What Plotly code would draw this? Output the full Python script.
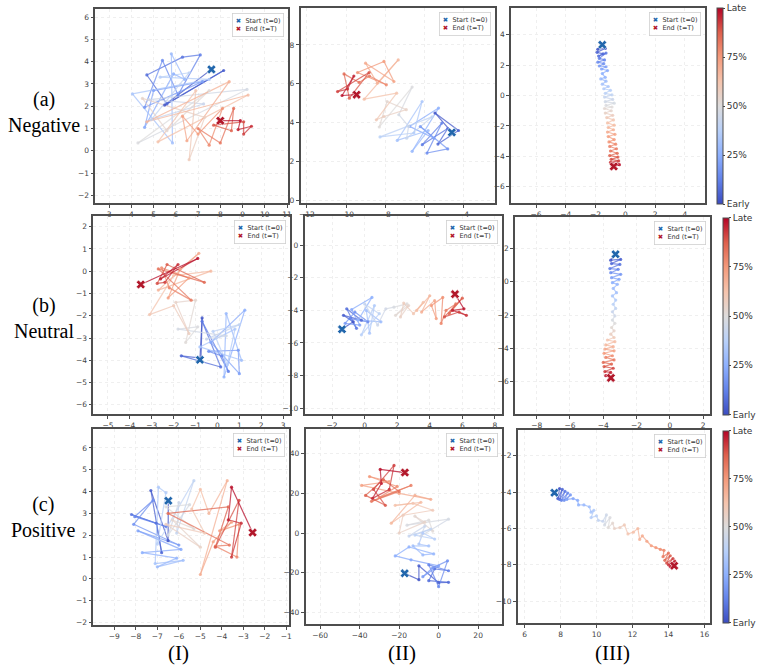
import numpy as np
import plotly.graph_objects as go
from plotly.colors import sample_colorscale

# ---------------- data (trajectory points, time ordered) ----------------
A1_X = [7.60, 5.50, 8.15, 5.60, 4.70, 6.30, 7.10, 6.10,
        5.40, 4.60, 7.20, 5.00, 4.60, 5.90, 6.40, 5.80, 5.85, 4.05, 7.50, 5.30,
        6.60, 4.90, 7.25, 4.80, 9.20, 4.30, 7.50, 5.60,
        4.50, 7.30, 6.60, 6.90, 5.20, 9.25, 4.70, 8.40, 6.50, 6.30,
        7.00, 8.10, 7.50, 7.00, 8.00, 8.60,
        8.50, 7.70, 9.05, 9.05, 9.40, 8.80, 8.90, 8.00]
A1_Y = [3.65, 2.05, 3.60, 2.10, 3.40, 4.20, 4.30, 2.50,
        4.05, 1.95, 3.10, 2.70, 1.05, 3.45, 3.20, 4.35, 0.35, 2.55, 3.20, 3.30,
        3.50, 1.40, 2.10, 2.30, 2.75, 0.35, 2.70, 0.90,
        2.35, 1.50, -0.40, 2.70, 0.40, 2.50, 1.30, 3.10, 0.45, 1.55,
        0.75, 1.90, 0.25, 1.00, 0.35, 1.90,
        0.90, 1.15, 1.30, 0.75, 1.10, 0.95, 1.35, 1.35]

A2_X = [-4.59, -5.45, -4.25, -5.30, -4.80, -6.10, -5.10, -5.86, -4.80, -6.20, -5.50,
        -6.75, -5.27, -6.62, -5.80, -7.38, -6.11, -6.53, -8.26, -5.60, -6.90,
        -6.80, -7.30, -6.62, -8.30, -7.90, -6.92, -8.06,
        -8.45, -7.41, -9.07, -7.33, -8.40, -9.00, -7.55, -8.06, -9.41, -7.94, -8.80,
        -9.33, -10.10, -9.83, -8.82, -10.43, -9.92, -9.60, -10.20, -9.46]
A2_Y = [3.50, 4.50, 3.60, 2.90, 3.70, 2.87, 3.98, 2.44, 2.65, 3.80, 3.20,
        3.81, 4.75, 2.53, 3.60, 3.09, 5.09, 3.47, 3.27, 4.30, 3.20,
        3.81, 4.41, 5.83, 3.78, 5.09, 4.67, 4.32,
        4.15, 5.52, 5.21, 7.23, 6.03, 7.06, 6.12, 7.15, 6.58, 5.95, 6.40,
        6.07, 6.51, 5.26, 6.58, 5.60, 5.73, 6.40, 5.40, 5.44]

A3_X = [-1.55, -1.85, -1.35, -1.90, -1.50, -1.80, -1.30, -1.75, -1.40, -1.85, -1.45, -1.75,
        -1.30, -1.60, -1.20, -1.55, -1.35, -1.65, -1.30, -1.55, -1.15, -1.45, -1.00, -1.35,
        -0.90, -1.40, -0.85, -1.35, -0.75, -1.30, -0.90, -1.40, -0.95, -1.35, -0.85, -1.25,
        -0.80, -1.20, -0.75, -1.15, -0.80, -1.20, -0.70, -1.15, -0.75, -1.10, -0.65, -1.05,
        -0.60, -1.00, -0.55, -1.05, -0.50, -0.95, -0.45, -1.00, -0.55, -0.90, -0.40, -0.78]
A3_Y = [3.35, 3.05, 3.10, 2.85, 2.75, 2.60, 2.80, 2.45, 2.35, 2.20, 2.10, 1.95,
        1.90, 1.75, 1.65, 1.45, 1.20, 1.10, 0.95, 0.75, 0.60, 0.45, 0.35, 0.15,
        0.05, -0.10, -0.25, -0.40, -0.50, -0.65, -0.75, -0.85, -1.00, -1.15, -1.30, -1.45,
        -1.60, -1.80, -1.95, -2.10, -2.25, -2.40, -2.55, -2.70, -2.90, -3.05, -3.20, -3.35,
        -3.50, -3.65, -3.80, -3.95, -4.05, -4.20, -4.30, -4.40, -4.50, -4.60, -4.55, -4.67]

B1_X = [-0.80, -0.70, -0.75, -1.65, 0.15, -0.70, 0.50, 0.20, -0.40,
        0.95, 1.00, -0.30, 1.25, 0.30, 0.40, 1.10, -0.80, 0.80, 0.45, -0.20, 1.00,
        -0.50, 0.40, -1.80, -0.90, -1.45, -1.00, -1.90, -1.30,
        -2.00, -3.10, -2.00, -0.30, -2.70, -0.85, -1.70, -2.25, -1.30, -2.55,
        -2.20, -1.20, -2.70, -0.60, -2.30, -2.75, -2.40, -1.80, -2.60, -0.90, -3.50]
B1_Y = [-3.98, -2.10, -3.90, -3.80, -4.30, -2.25, -4.50, -3.80, -3.60,
        -3.55, -4.60, -3.20, -1.75, -4.75, -1.90, -4.00, -3.40, -2.60, -4.20, -2.70, -2.40,
        -3.05, -2.90, -2.60, -2.50, -3.20, -1.30, -1.40, -2.80,
        -1.55, -1.95, -0.20, 0.00, -0.85, 0.80, 0.10, -1.20, -0.30, 0.15,
        -0.75, -1.30, 0.10, -0.50, 0.30, -0.55, -0.50, 0.30, -0.35, 0.57, -0.60]

B2_X = [-1.39, -0.70, -1.30, -0.20, -1.10, -0.50, -0.90, 0.20, -0.60, -1.20, -0.30, -0.80,
        0.45, -0.40, 1.00, 0.10, 0.30, 0.60, -0.20, 0.90, 0.00, 0.80, 1.30,
        1.80, 2.60, 1.90, 2.70, 2.20, 2.40,
        3.00, 3.60, 3.20, 4.00, 3.50, 4.30, 4.40, 4.10, 4.80, 4.70,
        5.00, 5.60, 5.20, 6.00, 4.90, 5.80, 6.25, 5.40, 6.10, 5.55]
B2_Y = [-5.16, -4.70, -4.30, -4.60, -3.90, -5.10, -4.50, -4.70, -4.10, -4.80, -4.90, -3.95,
        -3.20, -4.60, -4.70, -4.00, -5.40, -3.70, -5.50, -4.20, -3.60, -4.90, -3.90,
        -3.80, -3.60, -4.30, -3.70, -4.40, -3.55,
        -4.20, -3.50, -4.00, -3.10, -4.10, -3.40, -4.50, -3.70, -3.20, -4.80,
        -4.00, -3.60, -4.20, -3.25, -4.40, -4.10, -4.30, -4.00, -3.90, -3.00]

B3_X = [-3.26, -3.55, -2.95, -3.50, -3.00, -3.60, -3.10, -3.55, -2.95, -3.50, -3.05, -3.45,
        -3.15, -3.40, -3.20, -3.45, -3.25, -3.40, -3.25, -3.45, -3.30, -3.45, -3.30, -3.50,
        -3.35, -3.55, -3.35, -3.75, -3.30, -3.85, -3.40, -3.90, -3.35, -3.95, -3.45, -3.85,
        -3.35, -4.00, -3.50, -3.95, -3.40, -3.90, -3.55, -3.85, -3.54]
B3_Y = [1.66, 1.30, 1.35, 1.10, 1.05, 0.80, 0.75, 0.55, 0.45, 0.25, 0.15, -0.05,
        -0.15, -0.40, -0.65, -0.85, -1.10, -1.35, -1.60, -1.80, -2.05, -2.30, -2.50, -2.75,
        -2.95, -3.15, -3.35, -3.50, -3.60, -3.80, -3.90, -4.05, -4.15, -4.30, -4.45, -4.55,
        -4.70, -4.85, -4.95, -5.10, -5.20, -5.40, -5.45, -5.65, -5.78]

C1_X = [-6.49, -6.50, -7.30, -6.80, -7.05, -8.20, -6.60, -8.05, -7.20,
        -8.10, -6.00, -7.90, -5.90, -7.70, -6.10, -7.00, -5.80, -7.10, -6.95, -6.60,
        -7.00, -5.30, -6.10, -6.00, -6.50, -5.50, -6.60, -5.30,
        -6.30, -5.00, -6.60, -4.80, -5.40,
        -5.00, -4.60, -3.75, -5.00, -4.40, -3.55, -4.10, -3.20, -3.30, -4.30,
        -3.65, -6.50, -3.70, -4.30, -3.20, -3.55, -3.10, -3.70, -3.55, -2.57]
C1_Y = [3.58, 1.75, 4.05, 1.20, 2.55, 2.95, 2.40, 2.85, 3.60,
        2.50, 1.55, 2.20, 1.35, 1.20, 0.95, 0.55, 0.85, 0.70, 4.20, 3.95,
        1.60, 4.50, 2.10, 3.50, 2.00, 3.40, 3.30, 2.30,
        2.70, 1.45, 2.50, 2.10, 3.20,
        4.10, 3.00, 4.50, 0.20, 1.70, 2.60, 2.20, 2.50, 1.00, 1.50,
        1.55, 3.00, 3.30, 1.45, 3.60, 1.00, 2.55, 2.70, 4.20, 2.12]

C2_X = [-17.2, -10.0, -10.0, 0.0, 5.0, -5.0, -2.0, 5.0, -5.0, 0.0,
        4.5, -3.0, -8.0, 0.0, -14.0, -22.0, -15.0, -2.5, -8.0, -13.0, -5.0, -10.0,
        -8.0, -2.0, -12.0, -4.0, -15.0, -7.0, -9.0,
        5.0, -16.0, -5.0, -3.0, -12.0, -7.0, -20.0,
        -18.0, -3.0, -13.0, -22.0, -9.0, -24.0, -12.0, -4.0,
        -20.0, -39.0, -25.0, -35.0, -21.0, -30.0, -14.0, -34.0, -20.0,
        -28.0, -37.0, -27.0, -33.0, -22.6, -25.0, -33.5, -29.0, -29.6, -17.1]
C2_Y = [-20.3, -23.5, -16.5, -25.0, -24.8, -24.0, -18.0, -19.0, -16.0, -27.0,
        -14.0, -17.5, -22.0, -16.5, -13.5, -11.5, -7.0, -10.5, -11.0, -6.5, -6.5, -5.5,
        0.0, -3.0, -1.0, 2.0, -1.5, 3.5, -1.5,
        7.0, 4.0, 6.5, 1.0, 8.5, 5.5, 0.0,
        9.0, 11.5, 15.0, 14.0, 15.5, 5.0, 19.0, 17.0,
        20.0, 24.0, 26.0, 28.5, 23.5, 18.0, 24.0, 16.0, 21.0,
        27.0, 19.0, 14.0, 22.0, 34.1, 22.0, 17.5, 25.0, 32.1, 30.5]

C3_X = [7.66, 7.95, 7.85, 8.10, 7.95, 8.25, 8.05, 8.40, 8.20, 8.55, 8.35, 8.70,
        8.95, 9.00, 9.30, 9.60, 9.70, 9.85, 9.70, 10.00, 10.10, 10.35, 10.55, 10.45,
        10.75, 10.65, 10.90, 11.00, 11.30, 11.55, 11.75, 12.05, 12.30, 12.40, 12.55, 12.80,
        13.05, 13.30, 13.55, 13.75, 13.70, 14.00, 13.80, 14.10, 13.90, 14.25, 14.00, 14.35,
        14.10, 14.32]
C3_Y = [-4.03, -3.80, -4.35, -3.85, -4.40, -3.95, -4.45, -4.05, -4.45, -4.15, -4.40, -4.35,
        -4.45, -4.70, -4.70, -4.80, -5.10, -5.00, -5.40, -5.30, -5.55, -5.60, -5.25, -5.80,
        -5.40, -5.95, -5.70, -6.00, -5.95, -5.80, -6.30, -6.20, -6.00, -6.60, -6.40, -6.70,
        -6.95, -7.05, -7.15, -7.20, -7.55, -7.35, -7.75, -7.50, -7.90, -7.65, -8.00, -7.80,
        -8.10, -8.05]

COLOR_TICKVALS = [0, 0.25, 0.5, 0.75, 1]
COLOR_TICKTEXT = ['Early', '25%', '50%', '75%', 'Late']
ROW_LABELS = ['(a)<br>Negative', '(b)<br>Neutral', '(c)<br>Positive']
COL_LABELS = ['(I)', '(II)', '(III)']
START_LABEL = 'Start (t=0)'
END_LABEL = 'End (t=T)'

# ---------------- styling / layout ----------------
W, H = 759, 672
COOLWARM = [[0.0, '#3b4cc0'], [0.125, '#6282ea'], [0.25, '#8db0fe'], [0.375, '#b8d0f9'],
            [0.5, '#dddcdc'], [0.625, '#f5c4ad'], [0.75, '#f49a7b'], [0.875, '#de604d'],
            [1.0, '#b40426']]
START_COLOR = '#2166ac'
END_COLOR = '#b2182b'

PANELS = [(A1_X, A1_Y), (A2_X, A2_Y), (A3_X, A3_Y),
          (B1_X, B1_Y), (B2_X, B2_Y), (B3_X, B3_Y),
          (C1_X, C1_Y), (C2_X, C2_Y), (C3_X, C3_Y)]
BOXES = [(94, 288, 9, 204), (301, 497, 8, 204), (513, 709, 8, 204),
         (92, 290, 217, 415), (305, 504, 217, 415), (517, 714, 218, 415),
         (92, 289, 430, 627), (306, 504, 430, 626), (520, 714, 431, 625)]
RANGES = [([2.38, 11.03], [-2.36, 6.36]), ([-12.32, -2.38], [-0.15, 9.9]), ([-7.69, 5.38], [-7.1, 5.77]),
          ([-5.67, 3.3], [-6.4, 2.46]), ([-3.69, 8.44], [-10.35, 1.78]), ([-9.31, 2.44], [-7.94, 3.88]),
          ([-9.98, -0.89], [-2.12, 6.88]), ([-67.4, 32.1], [-45.9, 52.6]), ([5.63, 16.33], [-11.21, -0.56])]
DTICKS = [(1, 1), (2, 2), (2, 2), (1, 1), (2, 2), (2, 2), (1, 1), (20, 20), (2, 2)]
CBARS = {2: (721, 8, 205), 5: (727, 218, 416), 8: (727, 432, 625)}

axstyle = dict(showline=True, linecolor='#4d4d4d', linewidth=1.5, mirror=True,
               ticks='outside', ticklen=3, tickcolor='#4d4d4d', tickwidth=1,
               showgrid=True, gridcolor='#efefef', griddash='dot', gridwidth=1,
               zeroline=False, tickfont=dict(family='DejaVu Sans', size=7.5, color='#444'))

fig = go.Figure()
annotations = []
for k, (xs, ys) in enumerate(PANELS):
    ax = '' if k == 0 else str(k + 1)
    xr, yr = 'x' + ax, 'y' + ax
    n = len(xs)
    t = np.linspace(0, 1, n)
    segc = sample_colorscale(COOLWARM, list((t[:-1] + t[1:]) / 2))
    for i in range(n - 1):
        fig.add_trace(go.Scatter(x=[xs[i], xs[i + 1]], y=[ys[i], ys[i + 1]], mode='lines',
                                 line=dict(color=segc[i], width=1.2), opacity=0.75,
                                 xaxis=xr, yaxis=yr, hoverinfo='skip', showlegend=False))
    marker = dict(size=3.2, color=t, colorscale=COOLWARM, cmin=0, cmax=1, opacity=0.85)
    if k in CBARS:
        cx, ct, cb = CBARS[k]
        marker['showscale'] = True
        marker['colorbar'] = dict(thickness=6, x=cx / W, xanchor='left', xpad=0, ypad=0,
                                  y=1 - (ct + cb) / 2 / H, yanchor='middle', len=(cb - ct) / H,
                                  lenmode='fraction', tickvals=COLOR_TICKVALS, ticktext=COLOR_TICKTEXT,
                                  ticks='outside', ticklen=2, tickcolor='#444',
                                  tickfont=dict(family='DejaVu Sans', size=9, color='#333'),
                                  outlinecolor='#4d4d4d', outlinewidth=1)
    fig.add_trace(go.Scatter(x=xs, y=ys, mode='markers', marker=marker, xaxis=xr, yaxis=yr,
                             showlegend=False, hoverinfo='skip'))
    fig.add_trace(go.Scatter(x=[xs[0]], y=[ys[0]], mode='markers', name=START_LABEL,
                             marker=dict(symbol='x', size=8, color=START_COLOR,
                                         line=dict(color='white', width=0.6)),
                             xaxis=xr, yaxis=yr, showlegend=False))
    fig.add_trace(go.Scatter(x=[xs[-1]], y=[ys[-1]], mode='markers', name=END_LABEL,
                             marker=dict(symbol='x', size=8, color=END_COLOR,
                                         line=dict(color='white', width=0.6)),
                             xaxis=xr, yaxis=yr, showlegend=False))
    l, r, tp, bt = BOXES[k]
    (xrng, yrng), (dx, dy) = RANGES[k], DTICKS[k]
    fig.layout['xaxis' + ax] = dict(domain=[l / W, r / W], range=xrng, dtick=dx,
                                    anchor='y' + ax, **axstyle)
    fig.layout['yaxis' + ax] = dict(domain=[1 - bt / H, 1 - tp / H], range=yrng, dtick=dy,
                                    anchor='x' + ax, **axstyle)
    annotations.append(dict(
        xref='paper', yref='paper', x=(r - 4) / W, y=1 - (tp + 4) / H,
        xanchor='right', yanchor='top', align='left', showarrow=False,
        text=(f"<span style='color:{START_COLOR}'>✖</span>  {START_LABEL}<br>"
              f"<span style='color:{END_COLOR}'>✖</span>  {END_LABEL}"),
        font=dict(family='DejaVu Sans', size=6.5, color='#333'),
        bgcolor='rgba(255,255,255,0.85)', bordercolor='#d0d0d0', borderwidth=0.8, borderpad=3))

row_y = [112.5, 319, 518.5]
for lab, py in zip(ROW_LABELS, row_y):
    annotations.append(dict(xref='paper', yref='paper', x=42 / W, y=1 - py / H,
                            xanchor='center', yanchor='middle', showarrow=False, text=lab,
                            font=dict(family='Liberation Serif', size=20, color='black')))
col_x = [178, 403, 615]
for lab, px in zip(COL_LABELS, col_x):
    annotations.append(dict(xref='paper', yref='paper', x=px / W, y=1 - 655 / H,
                            xanchor='center', yanchor='middle', showarrow=False, text=lab,
                            font=dict(family='Liberation Serif', size=21, color='black')))

fig.update_layout(width=W, height=H, margin=dict(l=0, r=0, t=0, b=0),
                  paper_bgcolor='white', plot_bgcolor='white', showlegend=False,
                  annotations=annotations)
fig.write_html('out.html')
